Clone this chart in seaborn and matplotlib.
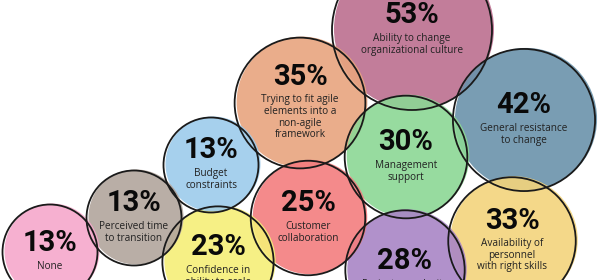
import matplotlib
matplotlib.use("Agg")
import matplotlib.pyplot as plt
import seaborn as sns
import pandas as pd

# ---- data ----
labels = [
    "Ability to change\norganizational culture",
    "General resistance\nto change",
    "Trying to fit agile\nelements into a\nnon-agile\nframework",
    "Availability of\npersonnel\nwith right skills",
    "Management\nsupport",
    "Project complexity",
    "Customer\ncollaboration",
    "Confidence in\nability to scale",
    "Budget\nconstraints",
    "Perceived time\nto transition",
    "None",
]
values = [53, 42, 35, 33, 30, 28, 25, 23, 13, 13, 13]

# ---- layout (bubble centres, pixel space) ----
pos_x = [412, 524, 300, 512, 406, 405, 308, 218, 211, 134, 50]
pos_y = [30, 120, 103, 241, 157, 270, 218, 262, 165, 218, 252]

colors = ["#BC6F8F", "#6A93AB", "#E8A47F", "#F3D47C", "#8CD795", "#A985C6",
          "#F37D7F", "#F6EF78", "#9DCBEB", "#B2A59D", "#F5A8CB"]

W, H, DPI = 599, 280, 100
sns.set_theme(style="white")
fig = plt.figure(figsize=(W / DPI, H / DPI), dpi=DPI)
ax = fig.add_axes([0, 0, 1, 1])

df = pd.DataFrame({"label": labels, "value": values, "x": pos_x, "y": pos_y})
df["xf"] = df["x"] + 2
df["yf"] = df["y"] - 1


def radius(v):
    return 47.5 + (v - 13) * 0.8125


size_map = {v: (1.44 * radius(v)) ** 2 for v in set(values)}

# fills (slightly offset for a hand-drawn look)
sns.scatterplot(data=df, x="xf", y="yf", hue="label", palette=colors,
                size="value", sizes=size_map, legend=False, alpha=0.9,
                linewidth=0, ax=ax, zorder=1)
# outlines
sns.scatterplot(data=df, x="x", y="y", size="value", sizes=size_map,
                legend=False, fc="none", ec="#1a1a1a", linewidth=1.3,
                ax=ax, zorder=2)

ax.set_xlim(0, W)
ax.set_ylim(H, 0)
ax.axis("off")

LINE = 11.7
for lab, v, x, y in zip(labels, values, pos_x, pos_y):
    lines = lab.split("\n")
    n = len(lines)
    pc = y - 8.75 - (n - 1) * LINE / 2
    ax.text(x, pc, f"{v}%", ha="center", va="center", fontsize=21,
            fontweight="bold", family="Roboto", color="#0a0a0a", zorder=5)
    for i, ln in enumerate(lines):
        ax.text(x, pc + 23 + i * LINE, ln, ha="center", va="center",
                fontsize=7.2, family="Open Sans", color="#222222", zorder=5)

fig.savefig("out.png", dpi=DPI)
